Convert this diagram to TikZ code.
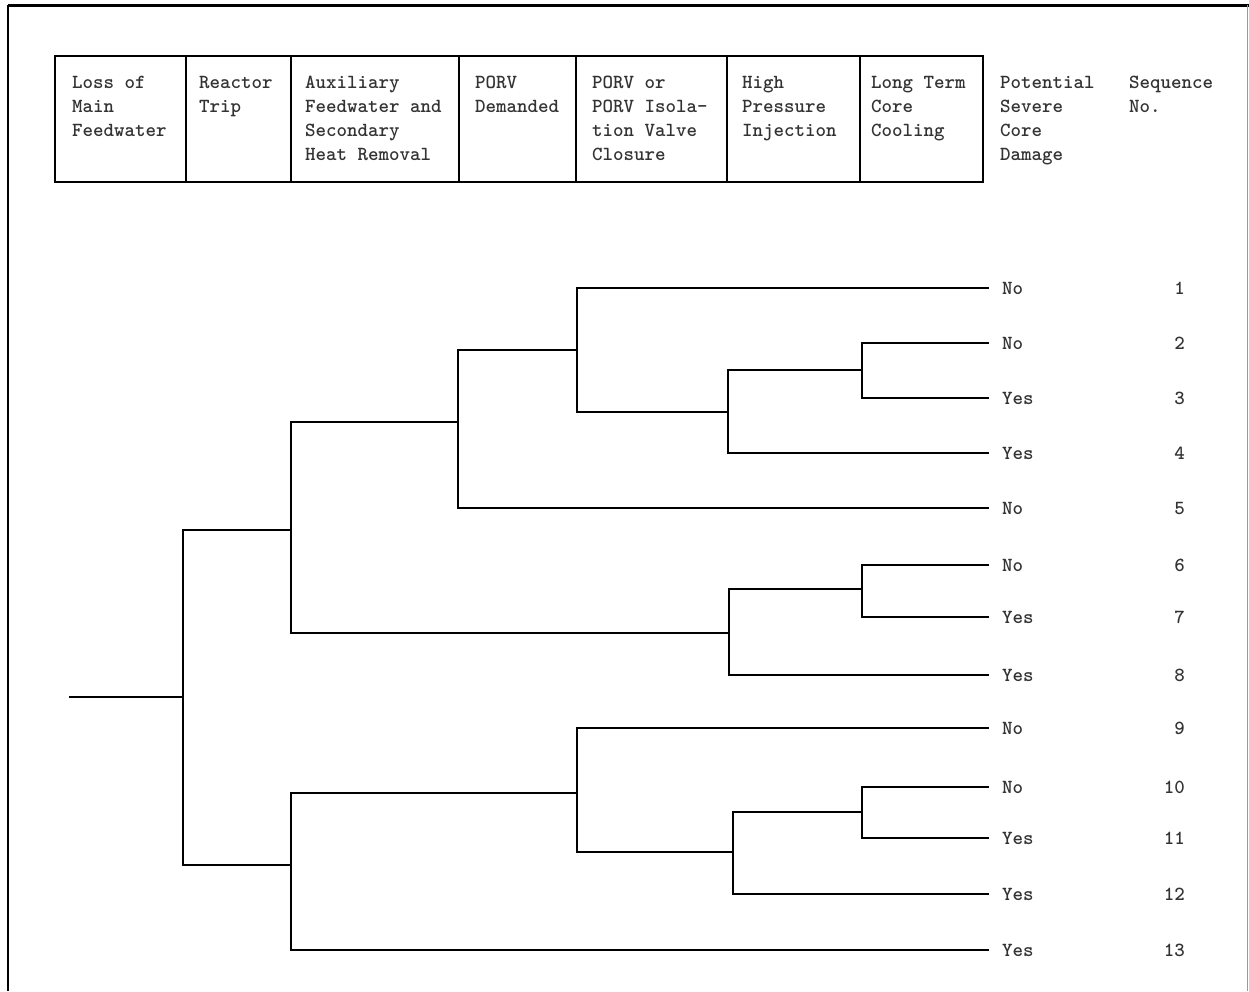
\documentclass[tikz,border=0pt]{standalone}
\usepackage{fontspec}
\newcommand{\typewr}{\ttfamily\bfseries\fontsize{20}{24}\selectfont}
\begin{document}
\begin{tikzpicture}[x=1pt,y=-1pt,
  branch/.style={line width=2pt,line cap=rect},
  hbox/.style={draw,line width=2.4pt},
  hdiv/.style={line width=1.8pt},
  tt/.style={font=\typewr,text=black!80},
  htext/.style={tt,anchor=north west,inner sep=0pt,align=left},
  leaf/.style={tt,anchor=west,inner ysep=0pt,inner xsep=14pt},
  seqno/.style={tt,anchor=east,inner sep=0pt}]
\useasboundingbox (0,0) rectangle (1249,991);
% outer frame
\draw[line width=3pt] (8,5) -- (1249,5);
\draw[line width=1.4pt] (8,5) -- (8,991);
\draw[line width=0.8pt,black!40] (1247,5) -- (1247,991);
% header table
\node[hbox,anchor=north west,minimum width=928pt,minimum height=126pt,inner sep=0pt] (hdr) at (54,55) {};
\foreach \x in {186,291,459,576,727,860}{\draw[hdiv] (\x,55) -- (\x,181);}
\node[htext] (t1) at (72,76) {Loss of\\Main\\Feedwater};
\node[htext] (t2) at (199,76) {Reactor\\Trip};
\node[htext] (t3) at (305,76) {Auxiliary\\Feedwater and\\Secondary\\Heat Removal};
\node[htext] (t4) at (475,76) {PORV\\Demanded};
\node[htext] (t5) at (592,76) {PORV or\\PORV Isola-\\tion Valve\\Closure};
\node[htext] (t6) at (742,76) {High\\Pressure\\Injection};
\node[htext] (t7) at (871,76) {Long Term\\Core\\Cooling};
\node[htext] (t8) at (1000,76) {Potential\\Severe\\Core\\Damage};
\node[htext] (t9) at (1129,76) {Sequence\\No.};
% branch points
\coordinate (r0) at (70,697);
\coordinate (n1) at (183,697);
\coordinate (A) at (291,530);
\coordinate (B) at (458,422);
\coordinate (C) at (577,350);
\coordinate (D) at (728,412);
\coordinate (E) at (862,370);
\coordinate (F) at (729,633);
\coordinate (G) at (862,589);
\coordinate (H) at (291,865);
\coordinate (I) at (577,793);
\coordinate (J) at (733,852);
\coordinate (K) at (862,812);
% leaves
\foreach \n/\y/\t in {1/288/No,2/343/No,3/398/Yes,4/453/Yes,5/508/No,6/565/No,7/617/Yes,8/675/Yes,9/728/No,10/787/No,11/838/Yes,12/894/Yes,13/950/Yes}{
  \node[leaf] (l\n) at (988,\y) {\t};
  \node[seqno] (s\n) at (1185,\y) {\n};
}
% connectors
\draw[branch] (r0) -- (n1);
\draw[branch] (n1) |- (A);
\draw[branch] (n1) |- (H);
\draw[branch] (A) |- (B);
\draw[branch] (A) |- (F);
\draw[branch] (B) |- (C);
\draw[branch] (B) |- (l5.west);
\draw[branch] (C) |- (l1.west);
\draw[branch] (C) |- (D);
\draw[branch] (D) |- (E);
\draw[branch] (D) |- (l4.west);
\draw[branch] (E) |- (l2.west);
\draw[branch] (E) |- (l3.west);
\draw[branch] (F) |- (G);
\draw[branch] (F) |- (l8.west);
\draw[branch] (G) |- (l6.west);
\draw[branch] (G) |- (l7.west);
\draw[branch] (H) |- (I);
\draw[branch] (H) |- (l13.west);
\draw[branch] (I) |- (l9.west);
\draw[branch] (I) |- (J);
\draw[branch] (J) |- (K);
\draw[branch] (J) |- (l12.west);
\draw[branch] (K) |- (l10.west);
\draw[branch] (K) |- (l11.west);
\end{tikzpicture}
\end{document}
